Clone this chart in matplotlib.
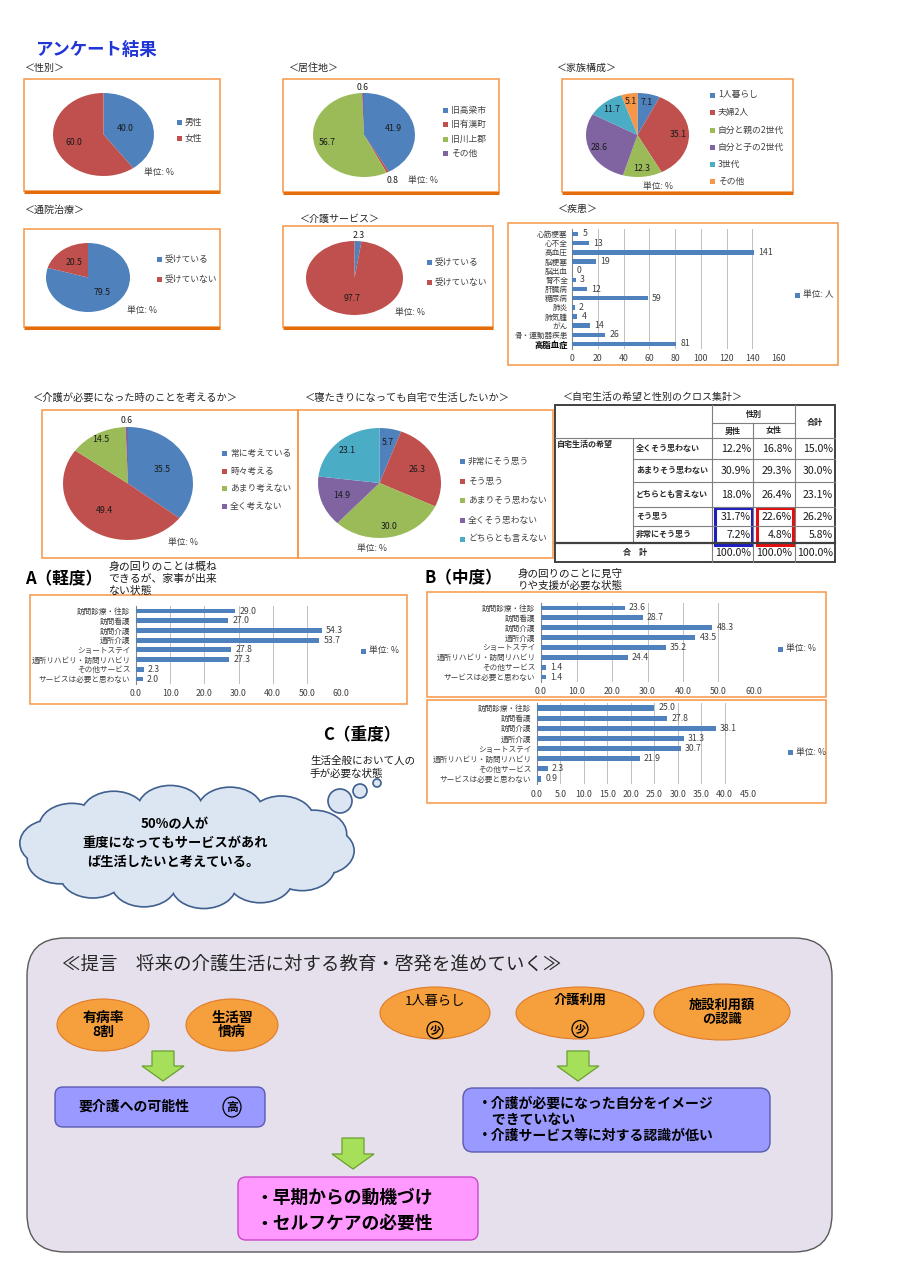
import matplotlib
matplotlib.use('Agg')
import matplotlib.pyplot as plt
from matplotlib.patches import Rectangle, FancyBboxPatch, Ellipse, Circle, Polygon
from matplotlib.ticker import FormatStrFormatter
import numpy as np

plt.rcParams['font.family'] = ['Noto Sans CJK JP', 'DejaVu Sans']

# ---------------- data ----------------
gender_labels = ['男性', '女性']
gender_values = [40.0, 60.0]
residence_labels = ['旧高梁市', '旧有漢町', '旧川上郡', 'その他']
residence_values = [41.9, 0.8, 56.7, 0.6]
family_labels = ['1人暮らし', '夫婦2人', '自分と親の2世代', '自分と子の2世代', '3世代', 'その他']
family_values = [7.1, 35.1, 12.3, 28.6, 11.7, 5.1]
clinic_labels = ['受けている', '受けていない']
clinic_values = [79.5, 20.5]
care_labels = ['受けている', '受けていない']
care_values = [2.3, 97.7]
disease_labels = ['心筋梗塞', '心不全', '高血圧', '脳梗塞', '脳出血', '腎不全', '肝臓病',
                  '糖尿病', '肺炎', '肺気腫', 'がん', '骨・運動器疾患', '高脂血症']
disease_values = [5, 13, 141, 19, 0, 3, 12, 59, 2, 4, 14, 26, 81]
disease_ticks = [0, 20, 40, 60, 80, 100, 120, 140, 160]
think_labels = ['常に考えている', '時々考える', 'あまり考えない', '全く考えない']
think_values = [35.5, 49.4, 14.5, 0.6]
home_labels = ['非常にそう思う', 'そう思う', 'あまりそう思わない', '全くそう思わない', 'どちらとも言えない']
home_values = [5.7, 26.3, 30.0, 14.9, 23.1]
cross_rows = ['全くそう思わない', 'あまりそう思わない', 'どちらとも言えない', 'そう思う', '非常にそう思う']
cross_male = [12.2, 30.9, 18.0, 31.7, 7.2]
cross_female = [16.8, 29.3, 26.4, 22.6, 4.8]
cross_total = [15.0, 30.0, 23.1, 26.2, 5.8]
cross_sum = [100.0, 100.0, 100.0]
service_labels = ['訪問診療・往診', '訪問看護', '訪問介護', '通所介護', 'ショートステイ',
                  '通所リハビリ・訪問リハビリ', 'その他サービス', 'サービスは必要と思わない']
mild_values = [29.0, 27.0, 54.3, 53.7, 27.8, 27.3, 2.3, 2.0]
moderate_values = [23.6, 28.7, 48.3, 43.5, 35.2, 24.4, 1.4, 1.4]
severe_values = [25.0, 27.8, 38.1, 31.3, 30.7, 21.9, 2.3, 0.9]
ab_ticks = [0, 10, 20, 30, 40, 50, 60]
c_ticks = [0, 5, 10, 15, 20, 25, 30, 35, 40, 45]

# ---------------- style ----------------
BLUE, RED, GREEN, PURPLE, TEAL, ORANGE = '#4F81BD', '#C0504D', '#9BBB59', '#8064A2', '#4BACC6', '#F79646'
PAL = [BLUE, RED, GREEN, PURPLE, TEAL, ORANGE]
TXT = '#404040'
FS = 6.3
YFS = 5.5

W, H = 899, 1277
fig = plt.figure(figsize=(W / 100, H / 100), dpi=100)
fig.patch.set_facecolor('white')
ov = fig.add_axes([0, 0, 1, 1])
ov.set_xlim(0, W)
ov.set_ylim(H, 0)
ov.axis('off')


def px_axes(x, y, w, h):
    ax = fig.add_axes([x / W, 1 - (y + h) / H, w / W, h / H])
    ax.set_facecolor('none')
    return ax


def obox(x0, y0, x1, y1, shadow=False):
    ov.add_patch(Rectangle((x0, y0), x1 - x0, y1 - y0, fill=False, ec='#F79646', lw=1.1))
    if shadow:
        ov.plot([x0, x1], [y1 + 0.8, y1 + 0.8], color='#E46C0A', lw=2.2, solid_capstyle='butt')


def section(x, y, s, fs=7.2):
    ov.text(x, y, s, fontsize=fs, va='center', ha='left', color='#262626')


def legend(x, ys, labels, colors, fs=FS):
    for y, lab, c in zip(ys, labels, colors):
        ov.add_patch(Rectangle((x, y - 2.5), 5, 5, color=c, lw=0))
        ov.text(x + 8, y, lab, fontsize=fs, va='center', ha='left', color=TXT)


def unit(x, y, s='単位: %'):
    ov.text(x, y, s, fontsize=FS, va='center', ha='left', color=TXT)


def draw_pie(cx, cy, rx, ry, values, dists):
    ax = px_axes(cx - rx, cy - ry, 2 * rx, 2 * ry)
    wedges, _ = ax.pie(values, colors=PAL[:len(values)], startangle=90, counterclock=False,
                       wedgeprops=dict(linewidth=0))
    ax.set_xlim(-1, 1)
    ax.set_ylim(-1, 1)
    ax.set_aspect('auto')
    for w, v, d in zip(wedges, values, dists):
        a = np.deg2rad((w.theta1 + w.theta2) / 2)
        ax.text(d * np.cos(a), d * np.sin(a), f'{v:.1f}', ha='center', va='center',
                fontsize=FS, color='#1a1a1a')
    return ax


def draw_bars(x0, x1, xmax, ytop, ybot, labels, values, ticks, fmt, tfmt, ypad=4):
    n = len(values)
    pitch = (ybot - ytop) / (n - 1)
    ax = px_axes(x0, ytop - pitch / 2, x1 - x0, pitch * n)
    y = np.arange(n)
    bars = ax.barh(y, values, height=0.5, color=BLUE, zorder=3)
    ax.set_ylim(n - 0.5, -0.5)
    ax.set_xlim(0, xmax)
    ax.set_xticks(ticks)
    ax.xaxis.set_major_formatter(FormatStrFormatter(tfmt))
    ax.set_yticks(y)
    ax.set_yticklabels(labels)
    ax.tick_params(axis='both', length=0, colors=TXT)
    ax.tick_params(axis='x', pad=4, labelsize=FS)
    ax.tick_params(axis='y', pad=ypad, labelsize=YFS)
    ax.grid(axis='x', color='#BFBFBF', lw=0.7, zorder=0)
    ax.set_axisbelow(True)
    for s in ['top', 'right', 'bottom']:
        ax.spines[s].set_visible(False)
    ax.spines['left'].set_color('#868686')
    ax.spines['left'].set_linewidth(0.8)
    ax.bar_label(bars, labels=[fmt.format(v) for v in values], padding=3, fontsize=FS, color=TXT)
    return ax


# ---------------- title ----------------
ov.text(35, 50, 'アンケート結果', fontsize=12.5, fontweight='bold', color='#1f35d6', va='center', ha='left')

# ---------------- row 1 ----------------
section(25, 68, '＜性別＞')
obox(24, 79, 220, 191, shadow=True)
draw_pie(103.5, 134.5, 50.5, 41.5, gender_values, [0.45, 0.62])
legend(177, [122, 138], gender_labels, PAL)
unit(144, 172)

section(289, 68, '＜居住地＞')
obox(283, 79, 499, 192, shadow=True)
draw_pie(364, 135, 51, 42, residence_values, [0.6, 1.22, 0.75, 1.12])
legend(443, [110, 124.5, 139, 153.5], residence_labels, PAL)
unit(408, 181)

section(557, 68, '＜家族構成＞')
obox(562, 79, 793, 192, shadow=True)
draw_pie(637.5, 135, 51.5, 42, family_values, [0.8] * 6)
legend(710, [95, 112, 130, 147, 164, 181], family_labels, PAL)
unit(643, 187)

# ---------------- row 2 ----------------
section(25, 210, '＜通院治療＞')
obox(24, 229, 220, 327, shadow=True)
draw_pie(88, 277.5, 42, 34.5, clinic_values, [0.55, 0.56])
legend(157, [259, 279], clinic_labels, PAL)
unit(127, 311)

section(300, 219, '＜介護サービス＞')
obox(283, 226, 493, 327, shadow=True)
draw_pie(354.5, 278, 48.5, 37, care_values, [1.15, 0.55])
legend(427, [262, 282], care_labels, PAL)
unit(395, 312)

section(558, 209, '＜疾患＞')
obox(508, 223, 838, 365)
axd = draw_bars(572, 778, 160, 234, 344, disease_labels, disease_values, disease_ticks, '{:d}', '%d', ypad=3)
lab = axd.get_yticklabels()[-1]
lab.set_fontweight('bold')
lab.set_color('black')
lab.set_fontsize(6.0)
ov.add_patch(Rectangle((795, 292.5), 5, 5, color=BLUE, lw=0))
unit(803, 295, '単位: 人')

# ---------------- row 3 ----------------
section(33, 398, '＜介護が必要になった時のことを考えるか＞', fs=7.4)
obox(42, 410, 298, 558)
draw_pie(128, 483.5, 65, 56.5, think_values, [0.58, 0.6, 0.88, 1.12])
legend(222, [453, 471, 488, 506], think_labels, PAL)
unit(168, 543)

section(305, 398, '＜寝たきりになっても自宅で生活したいか＞', fs=7.4)
obox(298, 410, 553, 558)
draw_pie(379.5, 483, 61.5, 55, home_values, [0.75, 0.66, 0.8, 0.66, 0.8])
legend(460, [461, 481, 500, 520, 539], home_labels, PAL)
unit(357, 549)

# ---------------- cross table ----------------
section(563, 397, '＜自宅生活の希望と性別のクロス集計＞', fs=7.2)
LC = '#7f7f7f'
ov.add_patch(Rectangle((555, 405), 280, 157, fill=False, ec='#404040', lw=1.4))
for xv, ya, yb in [(712, 405, 562), (753, 423, 562), (795, 405, 562), (633, 438, 543)]:
    ov.plot([xv, xv], [ya, yb], color=LC, lw=0.8)
ov.plot([712, 795], [423, 423], color=LC, lw=0.8)
ov.plot([555, 835], [438, 438], color=LC, lw=0.8)
for yv in [459, 482, 507, 526]:
    ov.plot([633, 835], [yv, yv], color=LC, lw=0.8)
ov.plot([555, 835], [543, 543], color='#404040', lw=1.6)
TF = 5.8
ov.text(753.5, 414, '性別', fontsize=TF, fontweight='bold', ha='center', va='center', color='#262626')
ov.text(732.5, 431, '男性', fontsize=TF, fontweight='bold', ha='center', va='center', color='#262626')
ov.text(774, 431, '女性', fontsize=TF, fontweight='bold', ha='center', va='center', color='#262626')
ov.text(815, 422, '合計', fontsize=TF, fontweight='bold', ha='center', va='center', color='#262626')
ov.text(557, 444, '自宅生活の希望', fontsize=TF, fontweight='bold', ha='left', va='center', color='#262626')
row_y = [448.5, 470.5, 494.5, 516.5, 534.5]
for y, rl, m, f, t in zip(row_y, cross_rows, cross_male, cross_female, cross_total):
    ov.text(636, y, rl, fontsize=TF, fontweight='bold', ha='left', va='center', color='#262626')
    for xr, v in [(751, m), (792, f), (833, t)]:
        ov.text(xr, y, f'{v:.1f}%', fontsize=7.6, ha='right', va='center', color='#1a1a1a')
ov.text(635, 552.5, '合　計', fontsize=TF, fontweight='bold', ha='center', va='center', color='#262626')
for xr, v in zip([751, 792, 833], cross_sum):
    ov.text(xr, 552.5, f'{v:.1f}%', fontsize=7.6, ha='right', va='center', color='#1a1a1a')
ov.add_patch(Rectangle((715, 508), 37, 37, fill=False, ec='#1f1fbf', lw=2.2))
ov.add_patch(Rectangle((757, 508), 36, 37, fill=False, ec='#e01010', lw=2.2))

# ---------------- A / B / C ----------------
ov.text(25, 579, 'A（軽度）', fontsize=12, fontweight='bold', ha='left', va='center', color='black')
ov.text(108, 567, '身の回りのことは概ね', fontsize=7.8, ha='left', va='center', color='#1a1a1a')
ov.text(108, 579, 'できるが、家事が出来', fontsize=7.8, ha='left', va='center', color='#1a1a1a')
ov.text(108, 591, 'ない状態', fontsize=7.8, ha='left', va='center', color='#1a1a1a')
obox(30, 595, 407, 704)
draw_bars(136, 341, 60, 611, 679, service_labels, mild_values, ab_ticks, '{:.1f}', '%.1f')
ov.add_patch(Rectangle((361, 648.5), 5, 5, color=BLUE, lw=0))
unit(369, 651)

ov.text(425, 578, 'B（中度）', fontsize=12, fontweight='bold', ha='left', va='center', color='black')
ov.text(518, 574, '身の回りのことに見守', fontsize=7.6, ha='left', va='center', color='#1a1a1a')
ov.text(518, 586, 'りや支援が必要な状態', fontsize=7.6, ha='left', va='center', color='#1a1a1a')
obox(427, 592, 826, 697)
draw_bars(541, 754, 60, 608, 677, service_labels, moderate_values, ab_ticks, '{:.1f}', '%.1f')
ov.add_patch(Rectangle((778, 646.5), 5, 5, color=BLUE, lw=0))
unit(786, 649)

obox(427, 700, 826, 803)
draw_bars(537, 748, 45, 708, 779, service_labels, severe_values, c_ticks, '{:.1f}', '%.1f')
ov.add_patch(Rectangle((788, 749.5), 5, 5, color=BLUE, lw=0))
unit(796, 752)
ov.text(323, 735, 'C（重度）', fontsize=12, fontweight='bold', ha='left', va='center', color='black')
ov.text(310, 761, '生活全般において人の', fontsize=7.6, ha='left', va='center', color='#1a1a1a')
ov.text(310, 774, '手が必要な状態', fontsize=7.6, ha='left', va='center', color='#1a1a1a')

# ---------------- cloud ----------------
CF, CE = '#DCE6F2', '#3F5F8F'
ccx, ccy = 187, 847
angs = np.linspace(0, 2 * np.pi, 14, endpoint=False) + 0.1
shapes = [(ccx + 135 * np.cos(a), ccy + 38 * np.sin(a), 64, 46) for a in angs]
shapes.append((ccx, ccy, 280, 86))
for (x, y, w, h) in shapes:
    ov.add_patch(Ellipse((x, y), w, h, fc=CF, ec=CE, lw=2.4))
for (x, y, w, h) in shapes:
    ov.add_patch(Ellipse((x, y), w, h, fc=CF, ec='none', lw=0))
for (x, y, r) in [(340, 801, 12), (360, 791, 7), (377, 783, 4)]:
    ov.add_patch(Circle((x, y), r, fc=CF, ec=CE, lw=1.2))
ov.text(175, 824, '50%の人が', fontsize=9.5, fontweight='bold', ha='center', va='center', color='black')
ov.text(175, 843, '重度になってもサービスがあれ', fontsize=9.5, fontweight='bold', ha='center', va='center', color='black')
ov.text(173, 862, 'ば生活したいと考えている。', fontsize=9.5, fontweight='bold', ha='center', va='center', color='black')

# ---------------- proposal ----------------
ov.add_patch(FancyBboxPatch((27, 938), 805, 314, boxstyle='round,pad=0,rounding_size=38',
                            fc='#E6E0EC', ec='#595959', lw=1.0))
ov.text(62, 965, '≪提言　将来の介護生活に対する教育・啓発を進めていく≫', fontsize=13.3,
        ha='left', va='center', color='#262626')

OF, OE = '#F6A03D', '#E07B28'
for (x, y, w, h) in [(103, 1025, 92, 52), (232, 1025, 92, 52), (435, 1013, 110, 52),
                     (580, 1013, 128, 52), (722, 1012, 136, 56)]:
    ov.add_patch(Ellipse((x, y), w, h, fc=OF, ec=OE, lw=0.8))
ov.text(103, 1025, '有病率\n8割', fontsize=10, fontweight='bold', ha='center', va='center', linespacing=1.05)
ov.text(232, 1025, '生活習\n慣病', fontsize=10, fontweight='bold', ha='center', va='center', linespacing=1.05)
ov.text(435, 1002, '1人暮らし', fontsize=9.5, ha='center', va='center')
ov.text(580, 1000, '介護利用', fontsize=9.5, fontweight='bold', ha='center', va='center')
for x, y in [(435, 1030), (580, 1029)]:
    ov.add_patch(Ellipse((x, y), 16, 17, fill=False, ec='black', lw=0.9))
    ov.text(x, y, '少', fontsize=8, fontweight='bold', ha='center', va='center')
ov.text(722, 1012, '施設利用額\nの認識', fontsize=9.5, fontweight='bold', ha='center', va='center', linespacing=1.05)


def down_arrow(cx, y0, y1, hw=21, sw=11, hh=15):
    pts = [(cx - sw, y0), (cx + sw, y0), (cx + sw, y1 - hh), (cx + hw, y1 - hh),
           (cx, y1), (cx - hw, y1 - hh), (cx - sw, y1 - hh)]
    ov.add_patch(Polygon(pts, closed=True, fc='#A6E05A', ec='#6A9F2E', lw=0.9))


down_arrow(163, 1051, 1081)
down_arrow(578, 1051, 1081)
down_arrow(353, 1138, 1169)

ov.add_patch(FancyBboxPatch((55, 1087), 210, 40, boxstyle='round,pad=0,rounding_size=8',
                            fc='#9999FF', ec='#5B5BB0', lw=1.0))
ov.text(78, 1107, '要介護への可能性', fontsize=10, fontweight='bold', ha='left', va='center')
ov.add_patch(Ellipse((232, 1107), 18, 20, fill=False, ec='black', lw=0.9))
ov.text(232, 1107, '高', fontsize=8.5, fontweight='bold', ha='center', va='center')

ov.add_patch(FancyBboxPatch((463, 1088), 307, 64, boxstyle='round,pad=0,rounding_size=10',
                            fc='#9999FF', ec='#5B5BB0', lw=1.0))
ov.text(478, 1104, '・介護が必要になった自分をイメージ', fontsize=10, fontweight='bold', ha='left', va='center')
ov.text(478, 1120, '　できていない', fontsize=10, fontweight='bold', ha='left', va='center')
ov.text(478, 1136, '・介護サービス等に対する認識が低い', fontsize=10, fontweight='bold', ha='left', va='center')

ov.add_patch(FancyBboxPatch((238, 1177), 240, 63, boxstyle='round,pad=0,rounding_size=8',
                            fc='#FF99FF', ec='#CC44CC', lw=1.0))
ov.text(255, 1198, '・早期からの動機づけ', fontsize=12.8, fontweight='bold', ha='left', va='center')
ov.text(255, 1224, '・セルフケアの必要性', fontsize=12.8, fontweight='bold', ha='left', va='center')

fig.savefig('out.png', dpi=100)
